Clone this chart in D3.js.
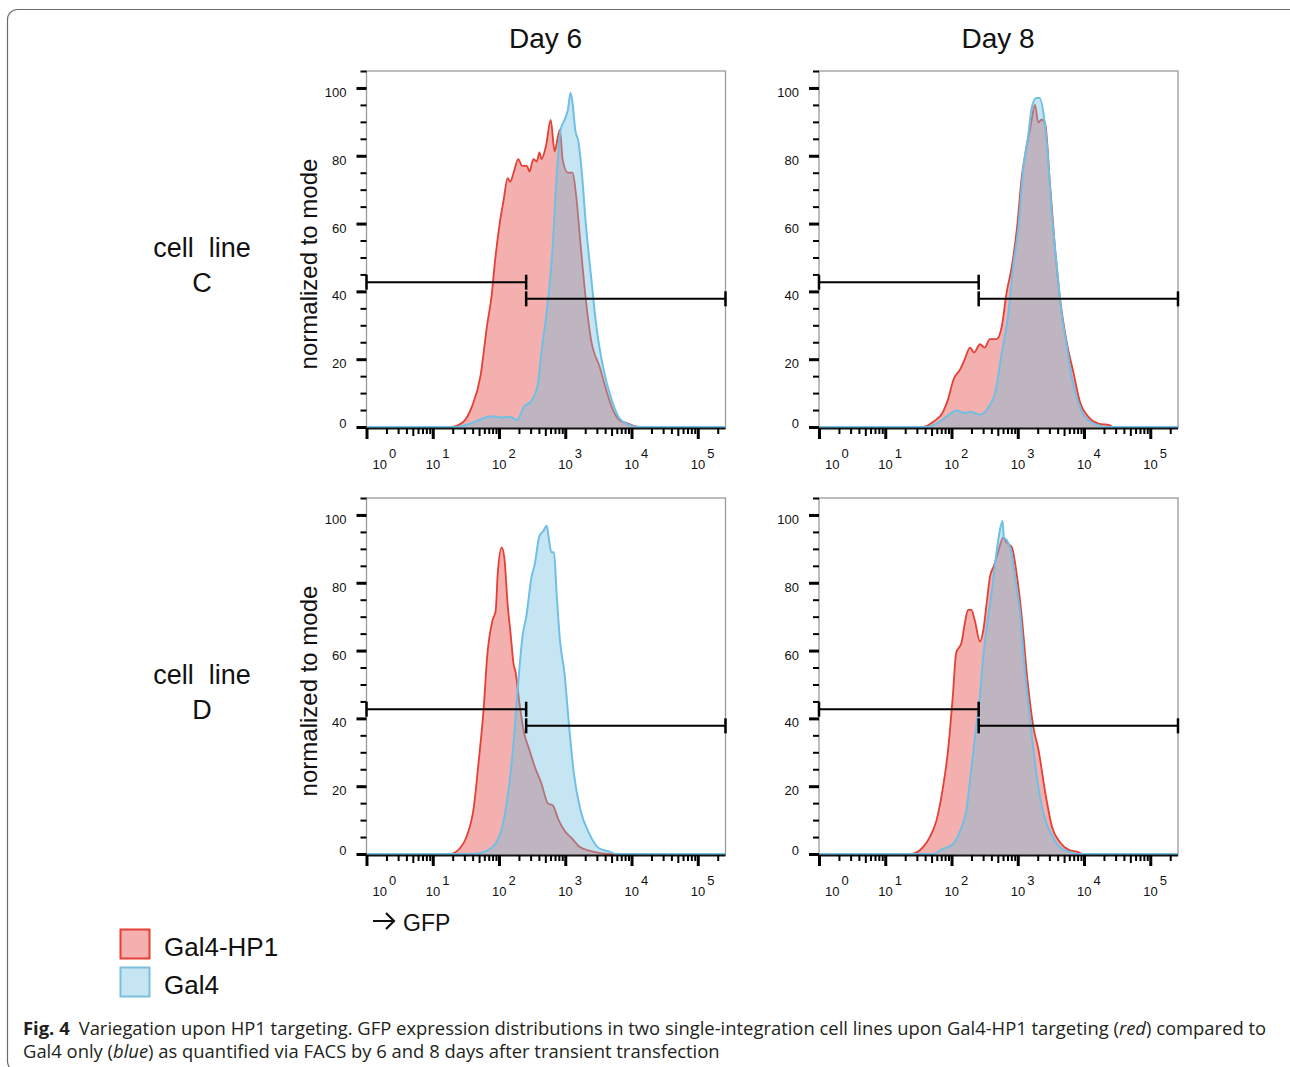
<!DOCTYPE html>
<meta charset="utf-8">
<style>
body { margin: 0; background: #fff; }
svg text { font-family: "Liberation Sans", Arial, Helvetica, sans-serif; fill: #111; }
.caption text { font-family: "Open Sans", "Noto Sans", sans-serif; fill: #231f20; }
.axis path.domain { display: none; }
.axis line { stroke: #000; }
</style>
<body>
<svg width="1290" height="1067"></svg>
<script src="https://d3js.org/d3.v7.min.js"></script>
<script>

var days = ["Day 6", "Day 8"];
var cellLines = ["C", "D"];
var seriesNames = ["Gal4-HP1", "Gal4"];

// [log10(GFP), % of mode]
var cDay6Hp1 = [[0,0],[1.26,0],[1.46,1.5],[1.59,6],[1.72,15],[1.82,30],[1.89,39],[1.94,49],[2.01,60],[2.07,67],[2.13,73.4],[2.17,72.4],[2.22,75],[2.29,79],[2.35,77],[2.42,77],[2.46,75.4],[2.52,79],[2.57,78.3],[2.61,81],[2.64,79],[2.71,83],[2.78,90.6],[2.84,81.3],[2.88,84.7],[2.92,87.7],[2.96,79],[3.04,75],[3.11,75],[3.16,69],[3.23,54],[3.29,41.4],[3.39,25.6],[3.52,17.7],[3.62,10.8],[3.72,5],[3.82,2],[3.95,1],[4.05,0.2],[4.2,0],[5.42,0]];
var cDay6Gal4 = [[0,0],[1.36,0],[1.56,1],[1.72,2.2],[1.87,3.2],[2.02,2.8],[2.17,3],[2.27,2],[2.38,6],[2.5,8],[2.58,12],[2.65,23.6],[2.73,35.5],[2.81,53],[2.87,74],[2.93,87.7],[2.99,90.6],[3.04,93.6],[3.08,98.5],[3.11,95.6],[3.15,87.7],[3.2,84],[3.25,75],[3.31,60],[3.39,44.3],[3.47,29.6],[3.57,17.7],[3.7,8],[3.82,2.5],[3.95,0.8],[4.1,0],[5.42,0]];
var cDay8Hp1 = [[0,0],[1.57,0],[1.72,1.5],[1.87,4.4],[1.95,8.3],[2.03,14],[2.13,17],[2.2,20],[2.28,23.4],[2.34,22],[2.43,24.4],[2.5,23.4],[2.58,25.9],[2.68,25.9],[2.76,29.8],[2.83,39.5],[2.91,47.3],[2.99,59],[3.06,73.7],[3.13,82.4],[3.19,88.3],[3.26,95],[3.31,89.8],[3.36,90.7],[3.41,89.8],[3.49,70.7],[3.56,53.2],[3.64,37.6],[3.74,24.9],[3.84,16.1],[3.94,7.3],[4.07,2.9],[4.22,1],[4.39,0.5],[4.44,0],[5.42,0]];
var cDay8Gal4 = [[0,0],[1.62,0],[1.82,1.5],[1.98,3.9],[2.08,4.9],[2.18,4.2],[2.3,4.4],[2.43,3.6],[2.56,5.9],[2.66,10.2],[2.76,22],[2.86,33.7],[2.93,47.3],[3.01,59],[3.08,75.6],[3.16,86.3],[3.21,94.1],[3.28,97],[3.33,97],[3.39,92.2],[3.44,83.4],[3.51,63.9],[3.59,47.3],[3.66,33.7],[3.74,23.9],[3.81,15.1],[3.91,7.3],[4.04,2.4],[4.19,0.7],[4.34,0],[5.42,0]];
var dDay6Hp1 = [[0,0],[1.26,0],[1.41,1.7],[1.51,5.1],[1.62,13.9],[1.69,26.7],[1.77,43.3],[1.82,58],[1.9,68.8],[1.95,71.8],[1.98,82.5],[2.04,90.4],[2.08,87.5],[2.13,73.7],[2.18,64],[2.22,56],[2.25,53.6],[2.31,44.3],[2.37,36.5],[2.46,30.6],[2.54,25.7],[2.64,20.8],[2.74,14.9],[2.81,14.4],[2.9,10],[3,6.6],[3.1,4.6],[3.21,2.2],[3.36,1],[3.56,0.2],[3.72,0],[5.42,0]];
var dDay6Gal4 = [[0,0],[1.62,0],[1.82,1],[1.95,3.1],[2.05,8],[2.13,16.9],[2.21,30.6],[2.28,48.2],[2.36,65],[2.41,69.8],[2.49,81.6],[2.54,85.5],[2.61,93.8],[2.67,95.3],[2.72,96.8],[2.75,93.3],[2.79,89],[2.83,89],[2.87,76.7],[2.92,63],[2.99,53],[3.05,39.4],[3.13,23.7],[3.23,12.9],[3.36,6.1],[3.51,1.7],[3.67,0.7],[3.77,0],[5.42,0]];
var dDay8Hp1 = [[0,0],[1.39,0],[1.57,2],[1.67,4.9],[1.77,9.7],[1.87,19.5],[1.95,31],[2.02,46.7],[2.07,59.3],[2.15,62.3],[2.2,68],[2.25,72],[2.3,72],[2.35,69],[2.43,62.7],[2.48,66],[2.53,73.9],[2.58,81.7],[2.64,85],[2.71,89.5],[2.78,93.4],[2.83,91.9],[2.91,90.5],[2.99,81.7],[3.06,70],[3.15,50.6],[3.24,37],[3.31,31],[3.42,17.5],[3.52,7.8],[3.64,3.4],[3.77,1.2],[3.92,0.5],[3.97,0],[5.42,0]];
var dDay8Gal4 = [[0,0],[1.72,0],[1.87,1.5],[2.02,2.9],[2.13,6.8],[2.23,13.6],[2.3,25.3],[2.37,37],[2.43,46.7],[2.48,58.4],[2.54,68],[2.61,77.8],[2.67,87.5],[2.72,94.4],[2.77,98.2],[2.79,93.4],[2.84,92.4],[2.89,90],[2.96,81.7],[3.04,70],[3.11,53.5],[3.19,38.9],[3.29,22.4],[3.39,11.7],[3.52,5.4],[3.64,1.9],[3.8,0.5],[3.9,0],[5.42,0]];

// gates: GFP split point and bar heights (% of mode)
var gateSplit = 257;
var gateHeights = [42.7, 37.8];

var yMajor = [0, 20, 40, 60, 80, 100];
var xDecades = [1, 10, 100, 1000, 10000, 100000];

var svg = d3.select("svg");

var colX = [366.5, 819],
    rowY = [71, 498],
    w = 359,
    h = 356,
    xMax = 262144;

var x = d3.scaleLog().domain([1, xMax]).range([0, w]);
var y = d3.scaleLinear().domain([0, 105]).range([h, 0]);

var redFill = "#f3b0ae", redLine = "#e63f33",
    blueFill = "rgb(112,190,222)", blueLine = "#6ec0e6";

// outer figure border
svg.append("rect")
    .attr("x", 7.5).attr("y", 9.5)
    .attr("width", 1300).attr("height", 1062)
    .attr("rx", 10)
    .attr("fill", "none")
    .attr("stroke", "#6b6b6b")
    .attr("stroke-width", 1.2);

var panels = [
  {row: 0, col: 0, hp1: cDay6Hp1, gal4: cDay6Gal4},
  {row: 0, col: 1, hp1: cDay8Hp1, gal4: cDay8Gal4},
  {row: 1, col: 0, hp1: dDay6Hp1, gal4: dDay6Gal4},
  {row: 1, col: 1, hp1: dDay8Hp1, gal4: dDay8Gal4}
];

var area = d3.area()
    .x(function(d) { return x(Math.pow(10, d[0])); })
    .y0(y(0))
    .y1(function(d) { return y(d[1]); })
    .curve(d3.curveMonotoneX);
var line = area.lineY1();

var xMinor = [];
xDecades.forEach(function(k) {
  for (var m = 2; m <= 9; m++) if (k * m <= xMax) xMinor.push(k * m);
});
var yMinor = d3.range(0, 106, 5).filter(function(v) { return v % 20 !== 0; });

panels.forEach(function(p) {
  var g = svg.append("g")
      .attr("transform", "translate(" + colX[p.col] + "," + rowY[p.row] + ")");

  g.append("rect")
      .attr("width", w).attr("height", h + 1)
      .attr("fill", "none")
      .attr("stroke", "#9a9a9a")
      .attr("stroke-width", 1.3);

  g.append("path").datum(p.hp1)
      .attr("d", area).attr("fill", redFill);
  g.append("path").datum(p.hp1)
      .attr("d", line).attr("fill", "none")
      .attr("stroke", redLine).attr("stroke-width", 1.8);
  g.append("path").datum(p.gal4)
      .attr("d", area).attr("fill", blueFill).attr("fill-opacity", 0.4);
  g.append("path").datum(p.gal4)
      .attr("d", line).attr("fill", "none")
      .attr("stroke", blueLine).attr("stroke-width", 2);

  // x axis baseline
  g.append("line")
      .attr("x1", 0).attr("x2", w)
      .attr("y1", h + 1.5).attr("y2", h + 1.5)
      .attr("stroke", "#111").attr("stroke-width", 2);

  // gates
  var gates = [[1, gateSplit, gateHeights[0]], [gateSplit, xMax, gateHeights[1]]];
  gates.forEach(function(gt) {
    var gy = y(gt[2]);
    g.append("line")
        .attr("x1", x(gt[0])).attr("x2", x(gt[1]))
        .attr("y1", gy).attr("y2", gy)
        .attr("stroke", "#000").attr("stroke-width", 2);
    [gt[0], gt[1]].forEach(function(v) {
      g.append("line")
          .attr("x1", x(v)).attr("x2", x(v))
          .attr("y1", gy - 7.5).attr("y2", gy + 7.5)
          .attr("stroke", "#000").attr("stroke-width", 2.5);
    });
  });

  // y axis
  g.append("g").attr("class", "axis")
      .call(d3.axisLeft(y).tickValues(yMinor).tickSize(6).tickFormat(""))
      .selectAll("line").attr("stroke-width", 2);
  var ya = g.append("g").attr("class", "axis")
      .call(d3.axisLeft(y).tickValues(yMajor).tickSize(10).tickPadding(10));
  ya.selectAll("line").attr("stroke-width", 3);
  ya.selectAll("text")
      .attr("font-size", 13)
      .attr("font-family", "'Liberation Sans', Arial, sans-serif")
      .attr("fill", "#111")
      .attr("dy", function(d) { return d === 0 ? "0em" : "0.66em"; });

  // x axis
  var xa = g.append("g").attr("class", "axis")
      .attr("transform", "translate(0," + (h + 1) + ")");
  xa.call(d3.axisBottom(x).tickValues(xMinor).tickSize(6).tickFormat(""))
    .selectAll("line")
      .attr("stroke-width", 2)
      .attr("y2", function(d) { return String(d)[0] === "5" ? 8 : 6; });
  var xb = g.append("g").attr("class", "axis")
      .attr("transform", "translate(0," + (h + 1) + ")");
  xb.call(d3.axisBottom(x).tickValues(xDecades).tickSize(11).tickFormat(""))
    .selectAll("line").attr("stroke-width", 3);

  xDecades.forEach(function(v, i) {
    var t = g.append("text")
        .attr("x", x(v) - 7 + (i === 0 ? 13 : 0))
        .attr("y", h + 42)
        .attr("font-size", 13);
    t.append("tspan").text("10");
    t.append("tspan").attr("dx", 2).attr("dy", -11).text(Math.round(Math.log10(v)));
  });
});

// column titles
days.forEach(function(d, i) {
  svg.append("text")
      .attr("x", colX[i] + w / 2 - 0.5)
      .attr("y", 48)
      .attr("text-anchor", "middle")
      .attr("font-size", 28)
      .text(d);
});

// row labels and y titles
cellLines.forEach(function(c, i) {
  var cy = rowY[i] + h / 2;
  var t = svg.append("text")
      .attr("text-anchor", "middle")
      .attr("font-size", 27)
      .style("white-space", "pre");
  t.append("tspan").attr("x", 202).attr("y", rowY[i] + 186).text("cell  line");
  t.append("tspan").attr("x", 202).attr("y", rowY[i] + 221).text(c);

  svg.append("text")
      .attr("transform", "translate(317," + (cy + 15) + ") rotate(-90)")
      .attr("text-anchor", "middle")
      .attr("font-size", 24)
      .text("normalized to mode");
});

// GFP axis note
svg.append("path")
    .attr("d", "M373,921H394M386,913L394,921L386,929")
    .attr("fill", "none")
    .attr("stroke", "#111")
    .attr("stroke-width", 2.2);
svg.append("text")
    .attr("x", 403).attr("y", 931)
    .attr("font-size", 23)
    .text("GFP");

// legend
var legendFill = [redFill, "#c6e5f2"], legendStroke = [redLine, "#7bbfdd"];
seriesNames.forEach(function(s, i) {
  var ly = 929.5 + i * 38;
  svg.append("rect")
      .attr("x", 120.5).attr("y", ly)
      .attr("width", 29).attr("height", 29)
      .attr("fill", legendFill[i])
      .attr("stroke", legendStroke[i])
      .attr("stroke-width", 2);
  svg.append("text")
      .attr("x", 164).attr("y", ly + 26)
      .attr("font-size", 26)
      .text(s);
});

// caption
var cap = svg.append("g").attr("class", "caption");
var l1 = cap.append("text").attr("x", 23).attr("y", 1035).attr("font-size", 16);
l1.append("tspan").attr("font-weight", "bold").text("Fig. 4");
l1.append("tspan").attr("dx", 9).text("Variegation upon HP1 targeting. GFP expression distributions in two single-integration cell lines upon Gal4-HP1 targeting (");
l1.append("tspan").attr("font-style", "italic").text("red");
l1.append("tspan").text(") compared to");
var l2 = cap.append("text").attr("x", 23).attr("y", 1058).attr("font-size", 16);
l2.append("tspan").text("Gal4 only (");
l2.append("tspan").attr("font-style", "italic").text("blue");
l2.append("tspan").text(") as quantified via FACS by 6 and 8 days after transient transfection");

var fs = 16 * 1246 / l1.node().getBBox().width;
l1.attr("font-size", fs);
l2.attr("font-size", fs);

</script>
</body>
